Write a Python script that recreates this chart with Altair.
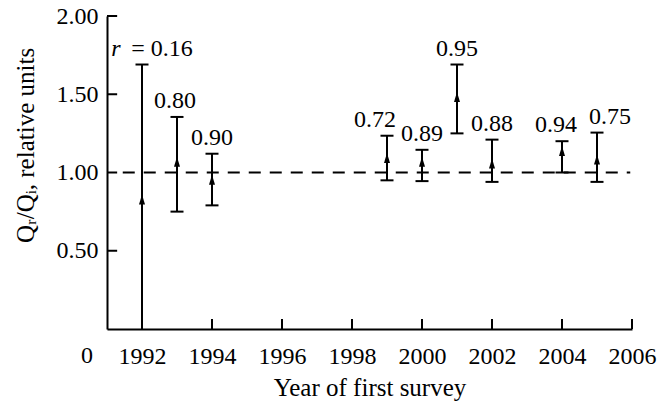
import altair as alt
import pandas as pd

# ---- data ----
years = [1992, 1993, 1994, 1999, 2000, 2001, 2002, 2004, 2005]
low = [0.0, 0.75, 0.79, 0.95, 0.945, 1.25, 0.94, 1.00, 0.94]
high = [1.69, 1.355, 1.12, 1.235, 1.145, 1.69, 1.21, 1.20, 1.255]
mid = [0.86, 1.10, 0.985, 1.125, 1.10, 1.515, 1.09, 1.17, 1.115]
r_labels = ["= 0.16", "0.80", "0.90", "0.72", "0.89", "0.95", "0.88", "0.94", "0.75"]

x_ticks = [1992, 1994, 1996, 1998, 2000, 2002, 2004, 2006]
y_ticks = [0.5, 1.0, 1.5, 2.0]
ref_level = [1.0]

# label placement nudges (in years) - styling only
label_shift = [0.57, -0.06, 0.0, -0.34, 0.0, 0.0, 0.0, -0.17, 0.37]

df = pd.DataFrame(dict(year=years, low=low, high=high, mid=mid,
                       label=r_labels, shift=label_shift))

FONT = "'Liberation Serif', 'Times New Roman', 'DejaVu Serif', serif"
xs = alt.Scale(domain=[1991, 2006], nice=False, zero=False)
ys = alt.Scale(domain=[0, 2], nice=False)

x_axis = alt.Axis(values=x_ticks, format="d", ticks=False, labelPadding=15,
                  labelOverlap=False, labelFlush=False,
                  title="Year of first survey", titleY=66,
                  titleBaseline="alphabetic", titleFontSize=25)
y_axis = alt.Axis(values=y_ticks, format=".2f", ticks=False, labelPadding=9,
                  labelOverlap=False, labelFlush=False,
                  title="Qᵣ/Qᵢ, relative units", titleAngle=270, titleX=-74,
                  titleY=129, titleAlign="center", titleBaseline="alphabetic",
                  titleFontSize=25)

base = alt.Chart(df)

bars = base.mark_rule(strokeWidth=2, color="black").encode(
    x=alt.X("year:Q", scale=xs, axis=x_axis),
    y=alt.Y("low:Q", scale=ys, axis=y_axis),
    y2="high:Q",
)

cap_top = base.mark_tick(orient="horizontal", size=13, thickness=2,
                         color="black", opacity=1).encode(
    x="year:Q", y="high:Q")
cap_low = base.transform_filter("datum.low > 0").mark_tick(
    orient="horizontal", size=13, thickness=2, color="black", opacity=1).encode(
    x="year:Q", y="low:Q")

arrows = base.mark_point(shape="M0,0L0.6,2L-0.6,2Z", size=100, filled=True,
                         color="black", opacity=1, strokeWidth=0).encode(
    x="year:Q", y="mid:Q")

ref = alt.Chart(pd.DataFrame({"y": ref_level})).mark_rule(
    strokeDash=[12, 9], strokeWidth=2, color="black").encode(
    y="y:Q", x=alt.datum(1991.45), x2=alt.datum(2005.95))

yt = alt.Chart(pd.DataFrame({"v": y_ticks})).mark_rule(
    strokeWidth=2, color="black").encode(
    y="v:Q", x=alt.datum(1991), x2=alt.datum(1991.29))
xt = alt.Chart(pd.DataFrame({"v": x_ticks})).mark_rule(
    strokeWidth=2, color="black").encode(
    x="v:Q", y=alt.datum(0), y2=alt.datum(0.064))

zero_lbl = alt.Chart(pd.DataFrame({"t": ["0"]})).mark_text(
    font=FONT, fontSize=24, baseline="top", dy=15, color="black").encode(
    x=alt.datum(1990.43), y=alt.datum(0), text="t:N")

labels = base.transform_calculate(lx="datum.year + datum.shift").mark_text(
    font=FONT, fontSize=24, baseline="alphabetic", dy=-9, align="center",
    color="black").encode(x="lx:Q", y="high:Q", text="label:N")

r_italic = base.transform_filter("datum.year == 1992").mark_text(
    text="r", font=FONT, fontSize=24, fontStyle="italic", baseline="alphabetic",
    dy=-9, dx=-26, align="center", color="black").encode(
    x="year:Q", y="high:Q")

chart = alt.layer(bars, ref, cap_top, cap_low, arrows, yt, xt, zero_lbl,
                  labels, r_italic).properties(
    width=525, height=313,
    autosize=alt.AutoSizeParams(type="none"),
    padding={"left": 107, "top": 16, "right": 37, "bottom": 74},
).configure_view(stroke=None).configure_axis(
    labelFont=FONT, labelFontSize=24, labelColor="black",
    titleFont=FONT, titleFontWeight="normal", titleColor="black",
    domainColor="black", domainWidth=2, grid=False,
)

chart.save("out.html", embed_options={"renderer": "svg", "actions": False})
